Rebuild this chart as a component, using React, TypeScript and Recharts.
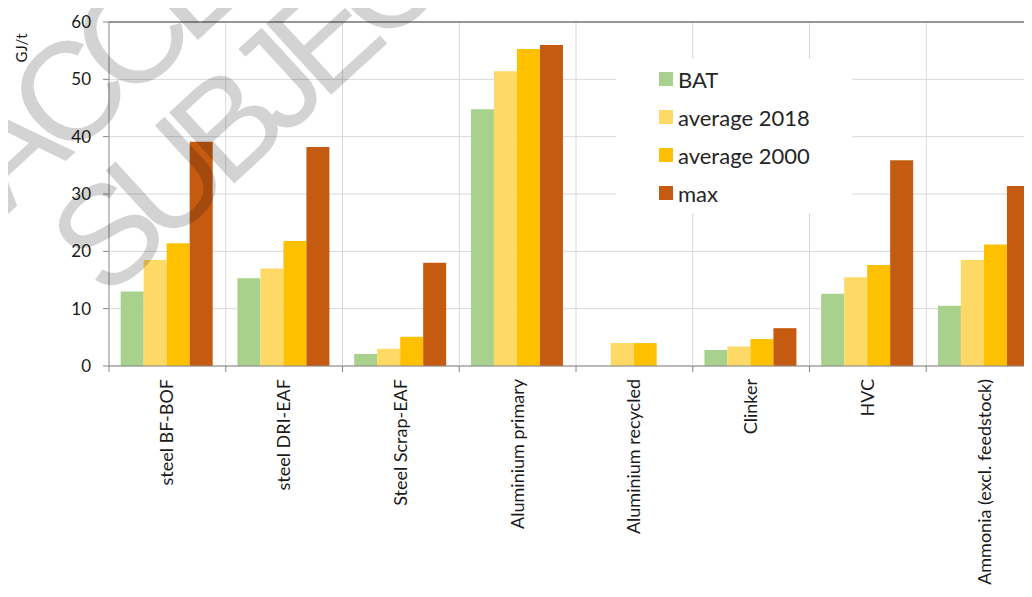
import { BarChart, Bar, XAxis, YAxis, CartesianGrid, ReferenceLine } from 'recharts';

const categories = [
  'steel BF-BOF',
  'steel DRI-EAF',
  'Steel  Scrap-EAF',
  'Aluminium primary',
  'Aluminium recycled',
  'Clinker',
  'HVC',
  'Ammonia (excl. feedstock)',
];
const bat = [13, 15.3, 2.1, 44.8, null, 2.8, 12.6, 10.5];
const avg2018 = [18.5, 17, 3, 51.4, 4, 3.4, 15.5, 18.5];
const avg2000 = [21.4, 21.8, 5.1, 55.3, 4, 4.7, 17.6, 21.2];
const maxVals = [39.1, 38.2, 18, 56, null, 6.6, 35.9, 31.4];
const yTicks = [0, 10, 20, 30, 40, 50, 60];

const seriesInfo = [
  { key: 'bat', name: 'BAT', color: '#A9D18E' },
  { key: 'avg2018', name: 'average 2018', color: '#FFD966' },
  { key: 'avg2000', name: 'average 2000', color: '#FFC000' },
  { key: 'max', name: 'max', color: '#C55A11' },
];

const data = categories.map((name, i) => ({
  name,
  bat: bat[i],
  avg2018: avg2018[i],
  avg2000: avg2000[i],
  max: maxVals[i],
}));

const CHART_W = 1051;
const CHART_H = 597;
const LEFT = 109;
const RIGHT = 8;
const TOP = 22;
const X_AXIS_H = 231;
const CAT_W = (CHART_W - LEFT - RIGHT) / categories.length;
const AXIS_Y = CHART_H - X_AXIS_H;
const FONT = 'Lato, "Open Sans", sans-serif';

function CategoryTick(props: any) {
  const { x, payload } = props;
  const bx = x - CAT_W / 2;
  return (
    <g>
      <line x1={bx} x2={bx} y1={AXIS_Y} y2={AXIS_Y + 6} stroke="#868686" />
      <text
        transform={`translate(${x + 6},${AXIS_Y + 13}) rotate(-90)`}
        textAnchor="end"
        fontSize={18}
        fontFamily={FONT}
        fill="#1a1a1a"
      >
        {payload.value}
      </text>
    </g>
  );
}

// legend drawn as a plain overlay so it does not shrink the plot area
function LegendBox() {
  return (
    <div
      style={{
        position: 'absolute',
        left: 616,
        top: 59,
        width: 236,
        height: 154,
        background: '#fff',
        fontFamily: FONT,
      }}
    >
      {seriesInfo.map((s, i) => (
        <div
          key={s.key}
          style={{
            position: 'absolute',
            left: 43,
            top: 7 + i * 38,
            height: 26,
            display: 'flex',
            alignItems: 'center',
            fontSize: 22,
            color: '#262626',
            whiteSpace: 'nowrap',
          }}
        >
          <span style={{ width: 14, height: 14, background: s.color, marginRight: 5, display: 'inline-block' }} />
          {s.name}
        </div>
      ))}
    </div>
  );
}

function Watermark() {
  const style = { fontFamily: '"Liberation Sans", Arial, sans-serif', fontSize: 140, letterSpacing: -16 };
  return (
    <svg width={1032} height={597} style={{ position: 'absolute', left: 0, top: 0, pointerEvents: 'none' }}>
      <g opacity={0.17} fill="#000">
        <text x={7} y={215} transform="rotate(-42.5 7 215)" style={style}>ACCEPTED</text>
        <text x={106} y={301} transform="rotate(-42.5 106 301)" style={style}>SUBJECT TO</text>
      </g>
    </svg>
  );
}

export default function App() {
  return (
    <div style={{ position: 'relative', width: 1032, height: 597, margin: -8, overflow: 'hidden', background: '#fff' }}>
      <BarChart
        width={CHART_W}
        height={CHART_H}
        data={data}
        margin={{ top: TOP, right: RIGHT, left: 0, bottom: 0 }}
        barCategoryGap="10%"
        barGap={0}
      >
        <CartesianGrid
          stroke="#d9d9d9"
          verticalCoordinatesGenerator={({ offset }: any) =>
            categories.slice(1).map((_, i) => offset.left + ((i + 1) * offset.width) / categories.length)
          }
        />
        <XAxis
          dataKey="name"
          height={X_AXIS_H}
          interval={0}
          tickLine={false}
          axisLine={{ stroke: '#868686' }}
          tick={<CategoryTick />}
        />
        <YAxis
          width={LEFT}
          domain={[0, 60]}
          ticks={yTicks}
          interval={0}
          tickSize={6}
          tickMargin={12}
          tickLine={{ stroke: '#868686' }}
          axisLine={{ stroke: '#868686' }}
          tick={{ fontSize: 17, fontFamily: FONT, fill: '#1a1a1a' }}
          label={{
            content: () => (
              <text transform="translate(27,48) rotate(-90)" textAnchor="middle" fontSize={15} fontFamily={FONT} fill="#1a1a1a">
                GJ/t
              </text>
            ),
          }}
        />
        <ReferenceLine y={60} stroke="#404040" strokeWidth={1} />
        {seriesInfo.map((s) => (
          <Bar key={s.key} dataKey={s.key} name={s.name} fill={s.color} isAnimationActive={false} />
        ))}
      </BarChart>
      <LegendBox />
      <Watermark />
    </div>
  );
}
